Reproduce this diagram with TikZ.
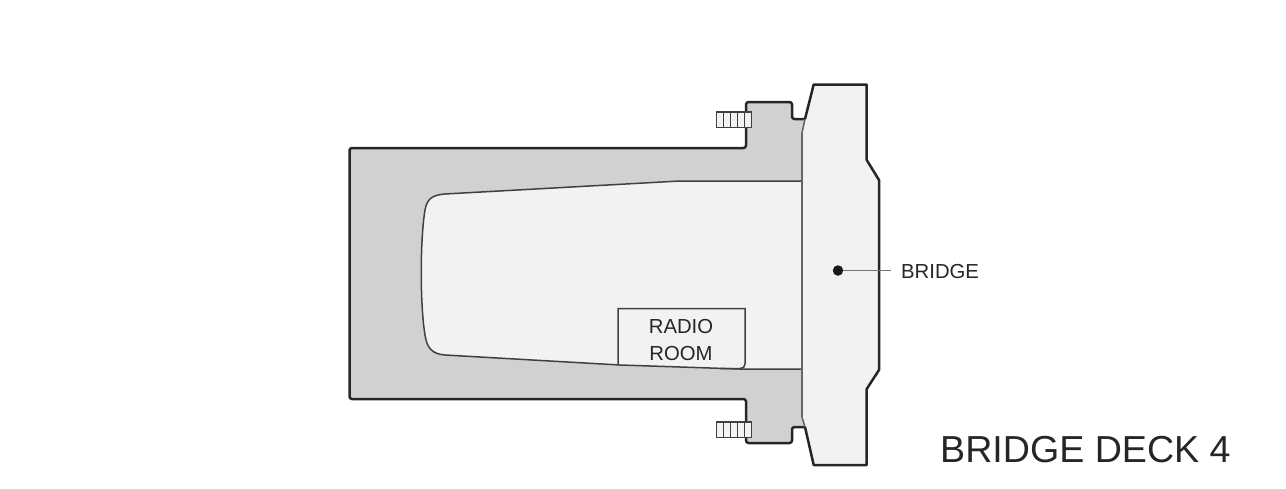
\documentclass[tikz,border=0pt]{standalone}
\usepackage{fontspec}
\setmainfont{Liberation Sans}
\usetikzlibrary{positioning}
\usetikzlibrary{calc}
\colorlet{deck colour}{black!18}
\definecolor{room colour}{RGB}{241,242,244}
\colorlet{outline colour}{black!85}
\colorlet{partition colour}{black!60}
\tikzset{
    % Define a set of styles
    % First some fills
    deck fill/.style={fill=deck colour},
    room fill/.style={fill=room colour},
    % Next some lines
    outer/.style={draw=outline colour, line width=2.5pt, line join=round},
    partition/.style={draw=partition colour, line width=1.6pt},
    thin wall/.style={draw=black!75, line width=1.5pt},
    leader/.style={draw=black!55, line width=0.8pt},
    % Text sizes
    small label/.style={font=\fontsize{20.3}{27}\selectfont, text=black!85, align=center},
    title label/.style={font=\fontsize{37.6}{40}\selectfont, text=black!85},
    every node/.style={align=center},
}

\begin{document}
\begin{tikzpicture}[x=1pt, y=-1pt,
    bolt/.style={draw=black!75, line width=1.4pt, fill=room colour},
    ]
\useasboundingbox (0,0) rectangle (1286,488);

% deck outline
\path [deck fill]
    (351,148) -- (745.5,148) -- (746,104) -- (749,102) -- (790,102) -- (792,105)
    -- (792,116) -- (795,119) -- (806,119) -- (806,427) -- (795,427) -- (792,430)
    -- (792,441) -- (790,443) -- (749,443) -- (746,441) -- (745.5,399) -- (351,399)
    -- (349.5,397) -- (349.5,150) -- cycle;
\draw [outer, rounded corners=2.5pt]
    (805,119) -- (792,119) -- (792,102)
    -- (746,102) -- (746,148) -- (349.5,148) -- (349.5,399) -- (746,399)
    -- (746,443) -- (792,443) -- (792,427) -- (805,427);

% inner room
\draw [thin wall, room fill]
    (802,181) -- (680,181) -- (445,194)
    .. controls (432,195) and (427,199) .. (425,210)
    .. controls (420,240) and (420,305) .. (425,335)
    .. controls (427,348) and (432,354) .. (445,355)
    -- (620,365) -- (740,369) -- (802,369);

% bridge
\path [room fill]
    (813.7,84.5) -- (866.7,84.5) -- (866.7,160) -- (879,180) -- (879,370)
    -- (866.7,389) -- (866.7,465) -- (813.7,465) -- (802,417) -- (802,133) -- cycle;
\draw [partition] (805,119) -- (802,133) -- (802,417) -- (805,427);
\draw [outer]
    (805,119) -- (813.7,84.5) -- (866.7,84.5) -- (866.7,160) -- (879,180) -- (879,370)
    -- (866.7,389) -- (866.7,465) -- (813.7,465) -- (805,427);

% radio room
\node (radiolabel) [small label] at (681,340.5) {RADIO\\ROOM};
\draw [thin wall]
    (618,365) -- (618,308.5) -- (745,308.5) -- (745,364)
    .. controls (745,367) and (743,368.5) .. (740,368.5) -- (720,368.5);

% bolts
\foreach \boltname/\boltx/\bolty in {upper/716.5/112, lower/716.5/422} {
    \draw [bolt] (\boltx,\bolty) rectangle ++(35,15.5);
    \foreach \tick in {1,...,4}
        \draw [bolt] (\boltx+7*\tick,\bolty) -- ++(0,15.5);
}

% bridge marker
\node (bridgedot) [circle, fill=black!90, inner sep=0, minimum size=10.5pt] at (838,270.5) {};
\node (bridgelabel) [small label, anchor=west, inner sep=0] at (901,272) {BRIDGE};
\coordinate (leaderend) at (890.5,270.5);
\draw [leader] (bridgedot) -- (leaderend);

\node (decklabel) [title label, anchor=west, inner sep=0] at (940,449.5) {BRIDGE DECK 4};

\end{tikzpicture}
\end{document}
